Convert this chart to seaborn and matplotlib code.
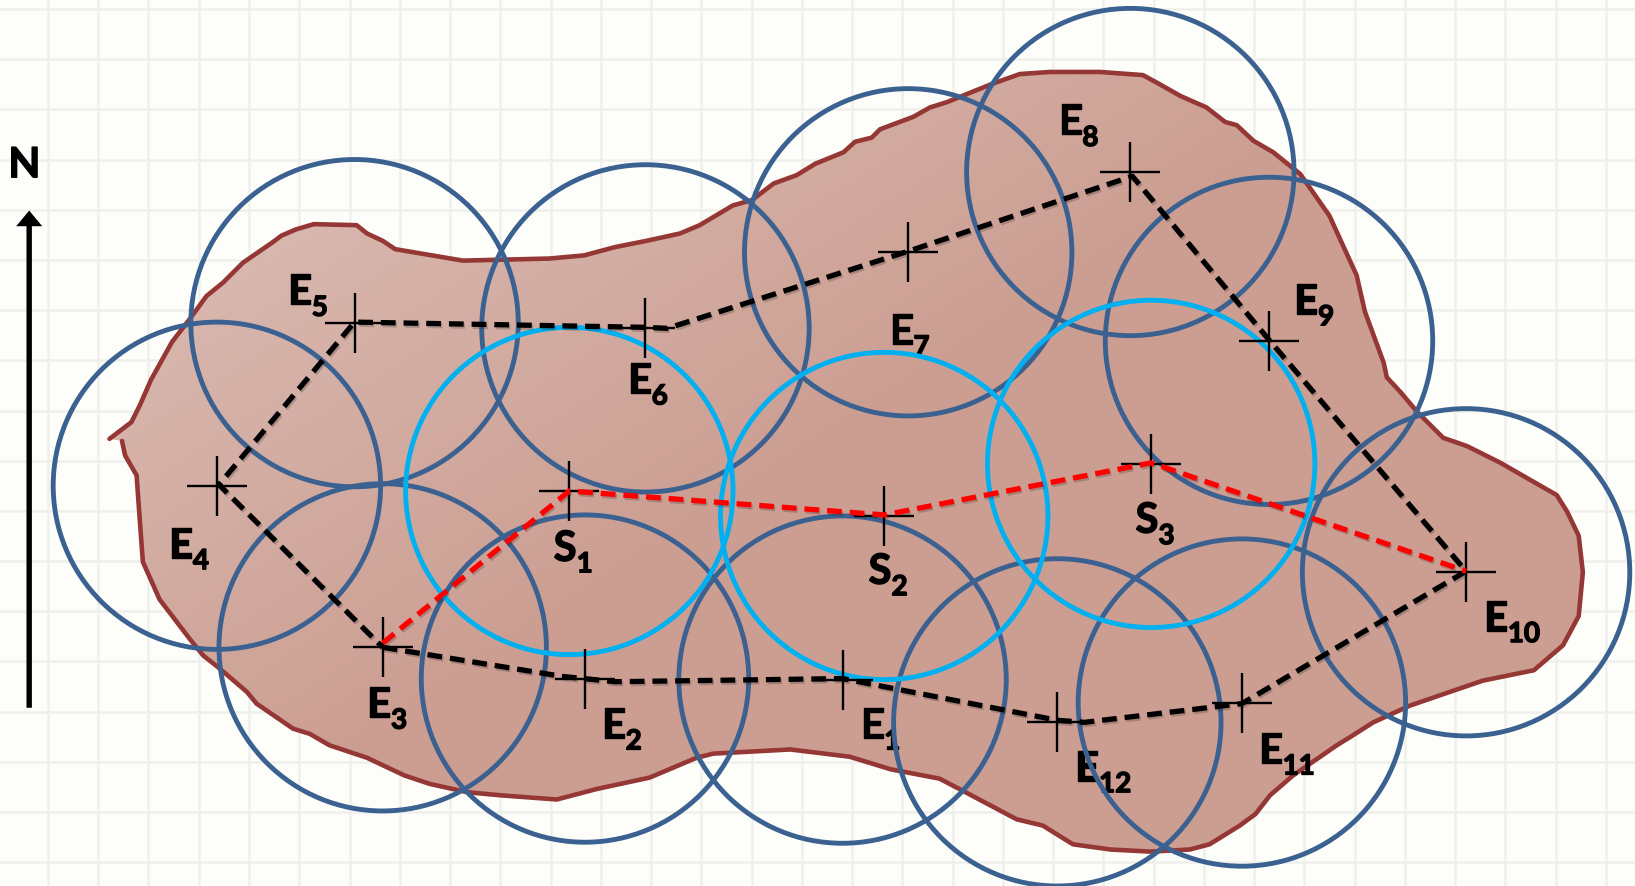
import numpy as np
import pandas as pd
import matplotlib
matplotlib.use("Agg")
import matplotlib.pyplot as plt
import matplotlib.patheffects as pe
import seaborn as sns
from matplotlib.patches import Circle, Polygon

blob_x = [105,126,134,145,165,182,198,214,233,262,270,284,301,342,352,367,379,444,527,560,590,620,652,671,703,721,742,764,782,809,820,836,844,876,892,908,950,978,1007,1055,1096,1109,1132,1157,1175,1186,1202,1221,1247,1275,1285,1301,1309,1327,1330,1343,1359,1384,1407,1439,1493,1503,1514,1518,1514,1499,1471,1422,1384,1352,1317,1295,1282,1240,1218,1204,1189,1160,1141,1103,1065,1029,1000,975,924,901,854,815,758,684,668,623,572,534,480,448,412,388,352,316,297,281,246,237,209,195,182,153,137,134,131,120,117]
blob_y = [422,406,390,365,329,307,285,272,253,233,227,221,216,217,225,232,240,251,249,246,238,232,225,217,198,193,177,169,158,147,137,133,125,113,104,99,82,72,70,70,73,80,93,104,118,121,136,147,168,208,230,265,300,349,363,377,396,421,429,445,476,492,515,550,592,620,644,654,667,678,694,708,716,745,764,782,793,811,816,818,816,811,793,787,760,748,739,727,720,724,728,747,758,768,764,761,753,745,728,716,705,700,676,665,641,630,614,576,540,499,457,438,424]

station_names = ["E1","E2","E3","E4","E5","E6","E7","E8","E9","E10","E11","E12"]
station_x = [808,561,367,208,340,619,871,1084,1217,1406,1191,1014]
station_y = [653,652,622,467,311,316,243,166,328,550,675,694]
inner_names = ["S1","S2","S3"]
inner_x = [546,848,1104]
inner_y = [472,496,446]
radius = 157

outer_path_x = [367,540,590,808,1014,1040,1191,1406,1217,1086,871,640,619,340,210,367]
outer_path_y = [622,650,655,652,692,694,676,549,327,170,242,316,315,310,466,622]
inner_path_x = [367,546,848,1104,1406]
inner_path_y = [618,472,495,445,549]

label_base = ["E","E","E","E","E","E","E","E","E","E","E","E","S","S","S"]
label_sub = ["1","2","3","4","5","6","7","8","9","10","11","12","1","2","3"]
label_x = [825,577,352,162,276,602,853,1015,1241,1423,1207,1031,531,833,1089]
label_y = [709,709,689,536,293,378,331,130,302,606,733,750,539,561,512]

BG = "#FDFEFA"
GRID = "#EFF0EC"
EDGE = "#953735"
BLUE = "#3B6190"
CYAN = "#00B0F0"

sns.set_theme(style="white")
plt.rcParams["font.family"] = ["Lato", "DejaVu Sans"]

W, H = 1568, 851
fig = plt.figure(figsize=(16.35, 8.87), dpi=100, facecolor=BG)
ax = fig.add_axes([0, 0, 1, 1], facecolor=BG)

ax.set_xticks(np.arange(46, W, 48.2))
ax.set_yticks(np.arange(9.6, H, 48.15))
ax.grid(True, color=GRID, lw=1.8, zorder=0)
ax.tick_params(length=0, labelbottom=False, labelleft=False)
ax.set_axisbelow(True)
sns.despine(ax=ax, left=True, bottom=True)

# Blob: diagonal shading clipped to the outline.
poly = Polygon(np.column_stack([blob_x, blob_y]), closed=True, fc="none", ec="none", transform=ax.transData)
ax.add_patch(poly)
gx, gy = np.meshgrid(np.linspace(0, 1, 200), np.linspace(0, 1, 120))
shade = np.clip((gx * 1.1 + gy * 0.9 - 0.12) / 0.85, 0, 1)
top = np.array([0xDC, 0xBF, 0xB7]) / 255
bot = np.array([0xCC, 0x9E, 0x92]) / 255
img = top[None, None, :] * (1 - shade[..., None]) + bot[None, None, :] * shade[..., None]
im = ax.imshow(img, extent=(90, 1530, 830, 60), aspect="auto", zorder=1, interpolation="bilinear")
im.set_clip_path(poly)
ax.set_xlim(0, W)
ax.set_ylim(H, 0)

sns.lineplot(x=blob_x, y=blob_y, sort=False, estimator=None, color=EDGE, lw=3.3, ax=ax, zorder=2)

heavy = [pe.withStroke(linewidth=1.0, foreground="black")]
for base, sub, lx, ly in zip(label_base, label_sub, label_x, label_y):
    ax.text(lx, ly, base, fontsize=30, fontweight="bold", color="black", ha="left", va="baseline", zorder=3, path_effects=heavy)
    ax.text(lx + (23 if base == "E" else 22), ly + 11, sub, fontsize=20, fontweight="bold", color="black", ha="left", va="baseline", zorder=3, path_effects=heavy)

for xs, ys, col in ((station_x, station_y, BLUE), (inner_x, inner_y, CYAN)):
    for cx, cy in zip(xs, ys):
        ax.add_patch(Circle((cx, cy), radius, fc="none", ec=col, lw=3.5, zorder=4))

crosses = pd.DataFrame({"x": station_x + inner_x, "y": station_y + inner_y})
sns.scatterplot(data=crosses, x="x", y="y", marker="+", s=1866, color="black", linewidth=1.7, ax=ax, zorder=5, legend=False)

shadow = [pe.SimpleLineShadow(offset=(1, -1.5), alpha=0.22), pe.Normal()]
l1 = sns.lineplot(x=outer_path_x, y=outer_path_y, sort=False, estimator=None, color="black", lw=3.8,
                  dashes=False, ax=ax, zorder=6, linestyle=(0, (2.8, 1.5)))
l1.lines[-1].set_path_effects(shadow)
l2 = sns.lineplot(x=inner_path_x, y=inner_path_y, sort=False, estimator=None, color="#FF0000", lw=3.8,
                  dashes=False, ax=ax, zorder=7, linestyle=(0, (2.8, 1.5)))
l2.lines[-1].set_path_effects(shadow)
ax.set_xlabel("")
ax.set_ylabel("")

ax.text(8, 171, "N", fontsize=30, fontweight="bold", color="black", ha="left", va="baseline", zorder=7, path_effects=heavy)
ax.arrow(28, 680, 0, -477, width=5.2, head_width=25, head_length=15, length_includes_head=True, fc="black", ec="none", zorder=7)

fig.savefig("out.png", dpi=100, facecolor=BG)
